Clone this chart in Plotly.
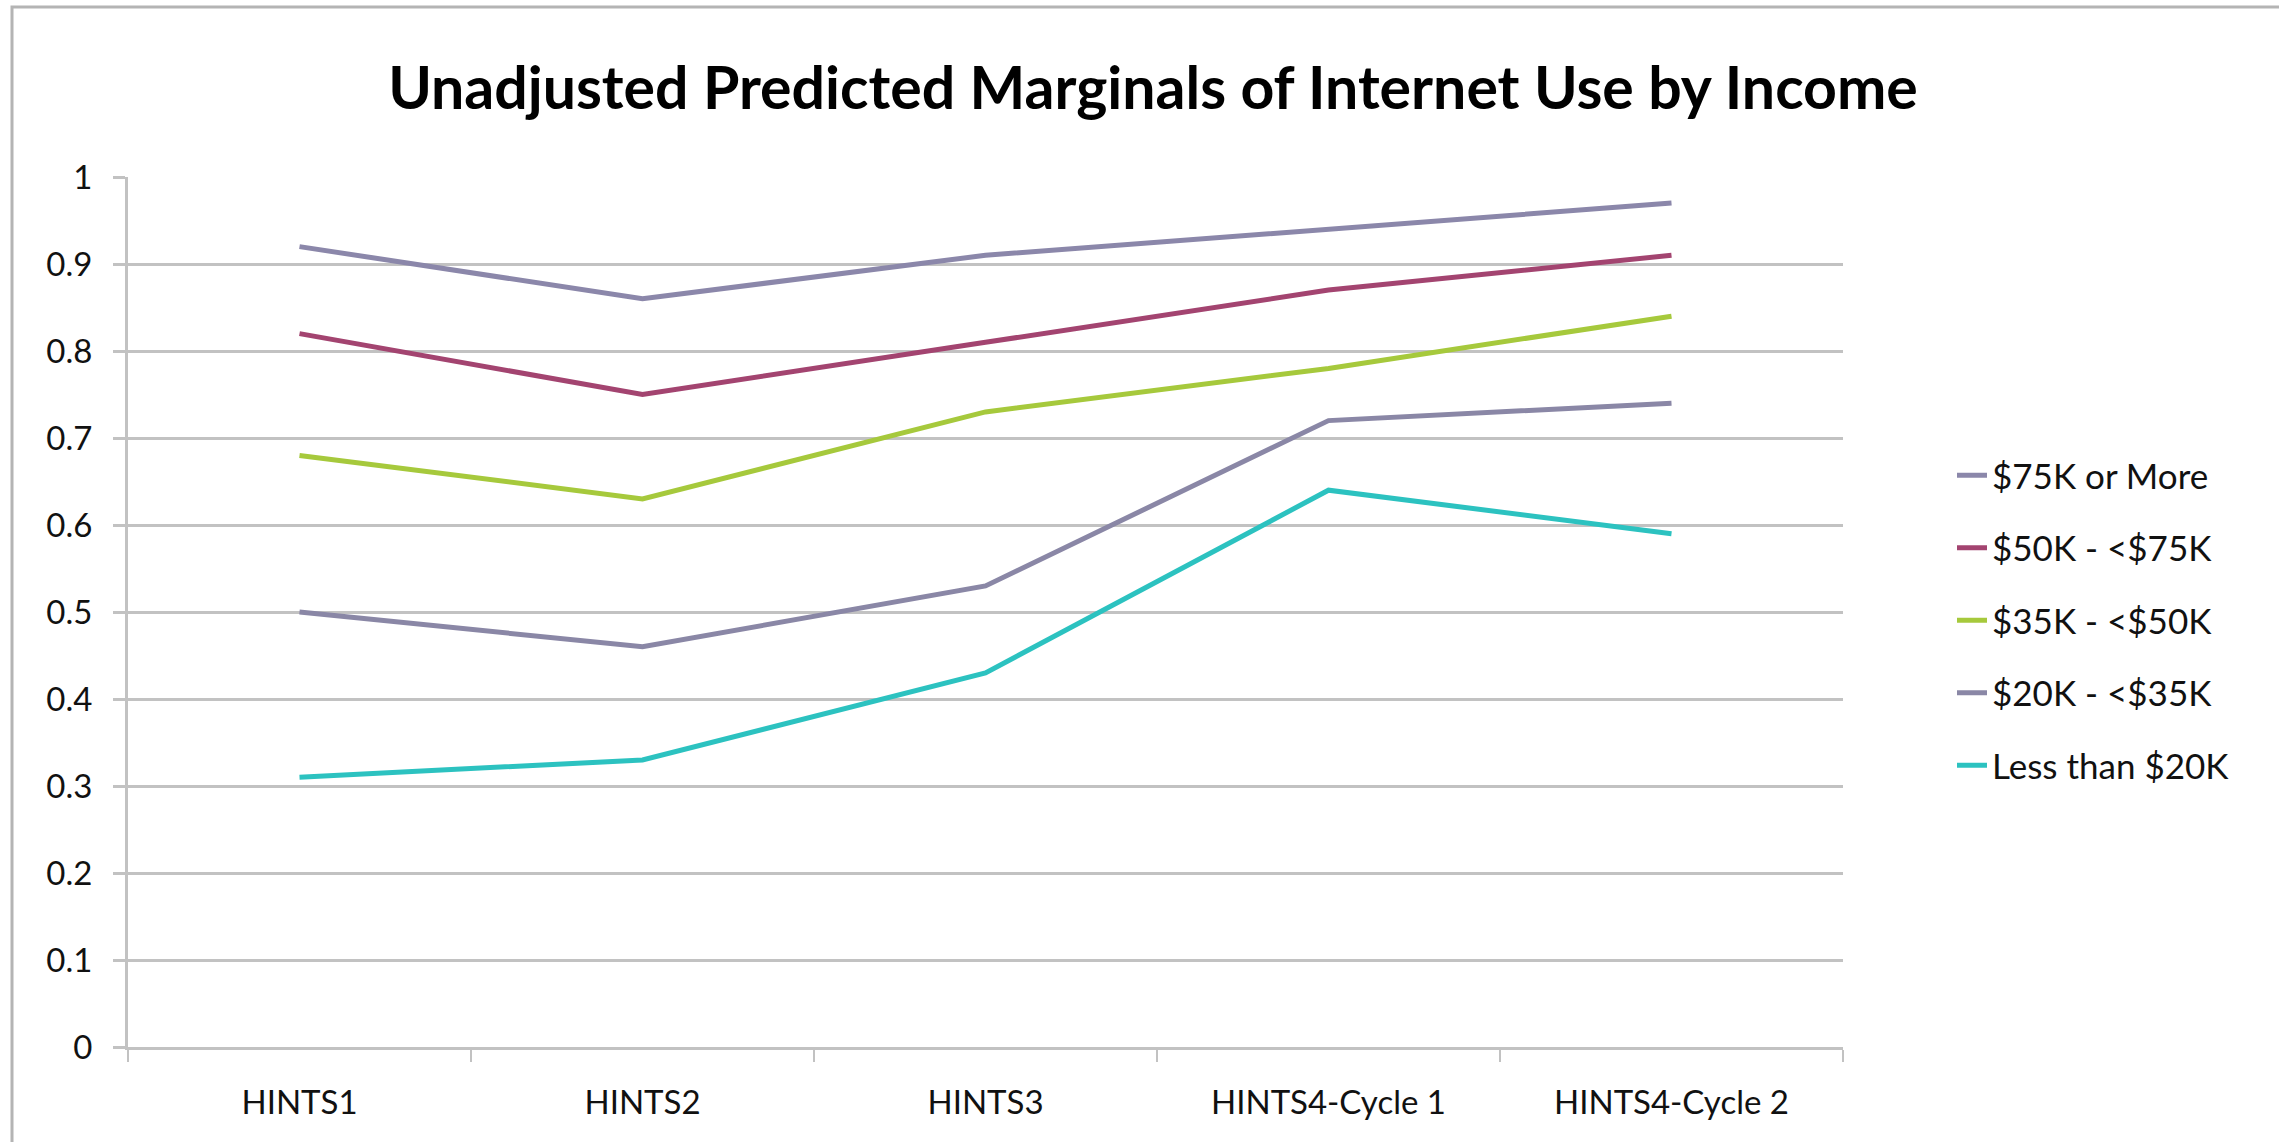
import plotly.graph_objects as go

# Survey waves on the x axis
waves = ["HINTS1", "HINTS2", "HINTS3", "HINTS4-Cycle 1", "HINTS4-Cycle 2"]

# Predicted probability of internet use by household income
inc_75k_plus = [0.92, 0.86, 0.91, 0.94, 0.97]
inc_50_75k = [0.82, 0.75, 0.81, 0.87, 0.91]
inc_35_50k = [0.68, 0.63, 0.73, 0.78, 0.84]
inc_20_35k = [0.50, 0.46, 0.53, 0.72, 0.74]
inc_under_20k = [0.31, 0.33, 0.43, 0.64, 0.59]

series_names = ["$75K or More", "$50K - <$75K", "$35K - <$50K", "$20K - <$35K", "Less than $20K"]
series_values = [inc_75k_plus, inc_50_75k, inc_35_50k, inc_20_35k, inc_under_20k]
series_colors = ["#8b87aa", "#a34470", "#a6c93c", "#8a87a6", "#2cc2c0"]

y_ticks = [0, 0.1, 0.2, 0.3, 0.4, 0.5, 0.6, 0.7, 0.8, 0.9, 1]

W, H = 2279, 1142
L, R, T, B = 128, 436, 177, 95
plot_w = W - L - R
plot_h = H - T - B

GRID = "#c2c2c2"
FONT = "Lato"

fig = go.Figure()
for i, (name, vals, col) in enumerate(zip(series_names, series_values, series_colors)):
    fig.add_trace(go.Scatter(
        x=waves, y=vals, name=name, mode="lines",
        line=dict(color=col, width=5),
        legendgroup=f"g{i}",
    ))

# outer frame around the whole chart
def px_to_paper_x(px):
    return (px - L) / plot_w

def px_to_paper_y(py):
    return (H - B - py) / plot_h

fig.add_shape(
    type="rect", xref="paper", yref="paper",
    x0=px_to_paper_x(12), x1=px_to_paper_x(W + 20),
    y0=px_to_paper_y(H + 20), y1=px_to_paper_y(7),
    line=dict(color="#b4b4b4", width=3), fillcolor="rgba(0,0,0,0)",
    layer="below",
)

fig.update_layout(
    width=W, height=H,
    margin=dict(l=L, r=R, t=T, b=B, autoexpand=False),
    paper_bgcolor="white", plot_bgcolor="white",
    font=dict(family=FONT, size=33, color="#111111"),
    title=dict(
        text="Unadjusted Predicted Marginals of Internet Use by Income",
        font=dict(family=FONT, size=59, color="#000000", weight=700),
        xref="paper", x=px_to_paper_x(1153), xanchor="center",
        yref="container", y=1 - 88 / H, yanchor="middle",
    ),
    legend=dict(
        x=px_to_paper_x(1952), xanchor="left",
        y=px_to_paper_y(446), yanchor="top",
        font=dict(family=FONT, size=35, color="#111111"),
        tracegroupgap=24,
        bgcolor="rgba(0,0,0,0)",
    ),
    showlegend=True,
)

fig.update_xaxes(
    type="category", categoryorder="array", categoryarray=waves,
    range=[-0.5, len(waves) - 0.5],
    showgrid=False, zeroline=False,
    showline=True, linecolor=GRID, linewidth=3,
    ticks="outside", tickson="boundaries", ticklen=12, tickwidth=2, tickcolor=GRID,
    ticklabelstandoff=24,
    tickfont=dict(family=FONT, size=33, color="#111111"),
)

fig.update_yaxes(
    range=[0, 1], tickvals=y_ticks, ticktext=[f"{v:g}" for v in y_ticks],
    showgrid=True, gridcolor=GRID, gridwidth=3,
    zeroline=False,
    showline=True, linecolor=GRID, linewidth=3,
    ticks="outside", ticklen=12, tickwidth=3, tickcolor=GRID,
    ticklabelstandoff=14,
    tickfont=dict(family=FONT, size=33, color="#111111"),
)

fig.write_html("out.html")
